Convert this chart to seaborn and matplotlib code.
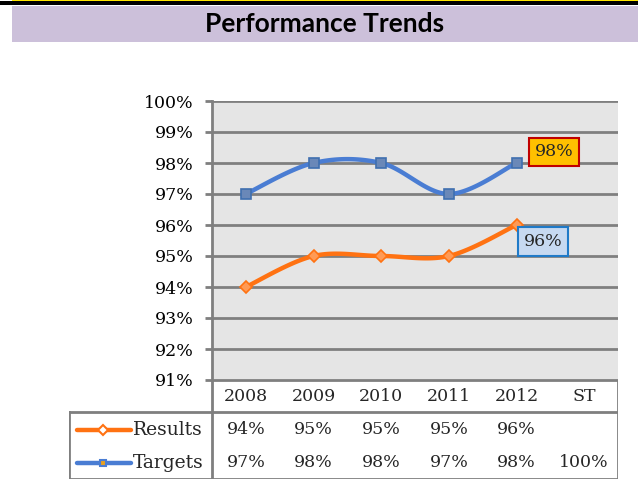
import numpy as np
import pandas as pd
import matplotlib
matplotlib.use('Agg')
import matplotlib.pyplot as plt
import matplotlib.transforms as mtransforms
from matplotlib.patches import Rectangle
from matplotlib.lines import Line2D
import seaborn as sns

# Data
years = ['2008', '2009', '2010', '2011', '2012', 'ST']
results = [94, 95, 95, 95, 96, None]
targets = [97, 98, 98, 97, 98, 100]
y_ticks = [91, 92, 93, 94, 95, 96, 97, 98, 99, 100]

orange = '#FF7212'
blue = '#4A7DD3'
grid_grey = '#7F7F7F'
serif = 'DejaVu Serif'
fs = 12.5

sns.set_theme(style='white')
plt.rcParams['font.family'] = serif


def smooth(xs, ys, n=30):
    # excel-style smoothed line (catmull-rom as cubic bezier)
    xs = np.asarray(xs, float)
    ys = np.asarray(ys, float)
    px = np.concatenate([[xs[0]], xs, [xs[-1]]])
    py = np.concatenate([[ys[0]], ys, [ys[-1]]])
    outx, outy = [], []
    t = np.linspace(0, 1, n)
    for i in range(1, len(px) - 2):
        p0 = np.array([px[i], py[i]])
        p3 = np.array([px[i + 1], py[i + 1]])
        p1 = p0 + (np.array([px[i + 1], py[i + 1]]) - np.array([px[i - 1], py[i - 1]])) / 6
        p2 = p3 - (np.array([px[i + 2], py[i + 2]]) - np.array([px[i], py[i]])) / 6
        b = ((1 - t) ** 3)[:, None] * p0 + (3 * (1 - t) ** 2 * t)[:, None] * p1 \
            + (3 * (1 - t) * t ** 2)[:, None] * p2 + (t ** 3)[:, None] * p3
        outx.extend(b[:, 0])
        outy.extend(b[:, 1])
    return outx, outy


fig = plt.figure(figsize=(6.38, 4.82), dpi=100)
W, H = 638, 482

# header band
fig.patches.append(Rectangle((0, 1 - 5 / H), 1, 4 / H, transform=fig.transFigure,
                             facecolor='black', edgecolor='none'))
fig.patches.append(Rectangle((12 / W, 1 - 1.2 / H), 1, 1.2 / H, transform=fig.transFigure,
                             facecolor='#FFE600', edgecolor='none'))
fig.patches.append(Rectangle((12 / W, 1 - 42 / H), 1, 36 / H, transform=fig.transFigure,
                             facecolor='#CCC0DA', edgecolor='none'))
fig.text(325 / W, 1 - 24 / H, 'Performance Trends', ha='center', va='center',
         fontsize=19, fontweight='bold', family='Lato', color='black')

# main plot area
ax = fig.add_axes([212 / W, 1 - 380 / H, 406 / W, 279 / H])
ax.set_facecolor('#E5E5E5')

n = len([v for v in results if v is not None])
xs = list(range(n))
for vals, col, mk, ms, mfc in [(targets, blue, 's', 6.5, '#6A88B8'),
                               (results, orange, 'D', 6.5, '#FF9A55')]:
    v = [x for x in vals[:n]]
    cx, cy = smooth(xs, v)
    sns.lineplot(x=cx, y=cy, sort=False, color=col, linewidth=3.2, ax=ax, zorder=3)
    ax.plot(xs, v, linestyle='none', marker=mk, markersize=ms, markerfacecolor=mfc,
            markeredgecolor=col if col == orange else '#3F6FAF', markeredgewidth=1.2, zorder=4)

ax.set_xlim(-0.5, len(years) - 0.5)
ax.set_ylim(y_ticks[0], y_ticks[-1])
ax.set_yticks(y_ticks)
ax.set_yticklabels([f'{v}%' for v in y_ticks], fontsize=fs, color='black')
ax.set_xticks([])
ax.grid(axis='y', color=grid_grey, linewidth=2)
ax.set_axisbelow(True)
for s in ['top', 'right', 'bottom']:
    ax.spines[s].set_visible(False)
ax.spines['left'].set_color(grid_grey)
ax.spines['left'].set_linewidth(2)
ax.tick_params(axis='y', length=5, width=2, color=grid_grey, pad=8, left=True)

# callouts on the last points
ax.annotate(f'{targets[n - 1]}%', (n - 1, targets[n - 1]), xytext=(27, 8),
            textcoords='offset points', ha='center', va='center', fontsize=fs,
            bbox=dict(boxstyle='square,pad=0.33', fc='#FFC000', ec='#C00000', lw=1.5), zorder=6)
ax.annotate(f'{results[n - 1]}%', (n - 1, results[n - 1]), xytext=(19, -12),
            textcoords='offset points', ha='center', va='center', fontsize=fs,
            bbox=dict(boxstyle='square,pad=0.33', fc='#C6D9F1', ec='#1F7AC8', lw=1.5), zorder=6)

# data table under the plot
tab = fig.add_axes([69 / W, 1 - 479 / H, (618 - 69) / W, 99 / H])
tab.set_xlim(69, 618)
tab.set_ylim(479, 380)
tab.axis('off')
tr = mtransforms.blended_transform_factory(ax.transData, tab.transData)

lc = dict(color=grid_grey, linewidth=2, solid_capstyle='projecting')
tab.plot([212, 618], [380, 380], **lc)
tab.plot([212, 212], [380, 479], **lc)
tab.plot([618, 618], [380, 479], **lc)
tab.plot([69, 618], [412.5, 412.5], **lc)
tab.plot([69, 618], [479, 479], **lc)
tab.plot([69, 69], [412.5, 479], **lc)

for i, yr in enumerate(years):
    tab.text(i, 396.5, yr, transform=tr, ha='center', va='center', fontsize=fs)
    if results[i] is not None:
        tab.text(i, 430, f'{results[i]}%', transform=tr, ha='center', va='center', fontsize=fs)
    if targets[i] is not None:
        tab.text(i, 463, f'{targets[i]}%', transform=tr, ha='center', va='center', fontsize=fs)

for label, yrow, col, mk, mfc in [('Results', 430, orange, 'D', 'white'),
                                  ('Targets', 463, blue, 's', '#E8A020')]:
    tab.add_line(Line2D([77, 131], [yrow, yrow], color=col, linewidth=3.2))
    tab.plot([103], [yrow], marker=mk, markersize=5, markerfacecolor=mfc,
             markeredgecolor=col, markeredgewidth=1.5)
    tab.text(133, yrow, label, ha='left', va='center', fontsize=13.5)

fig.savefig('out.png', dpi=100)
